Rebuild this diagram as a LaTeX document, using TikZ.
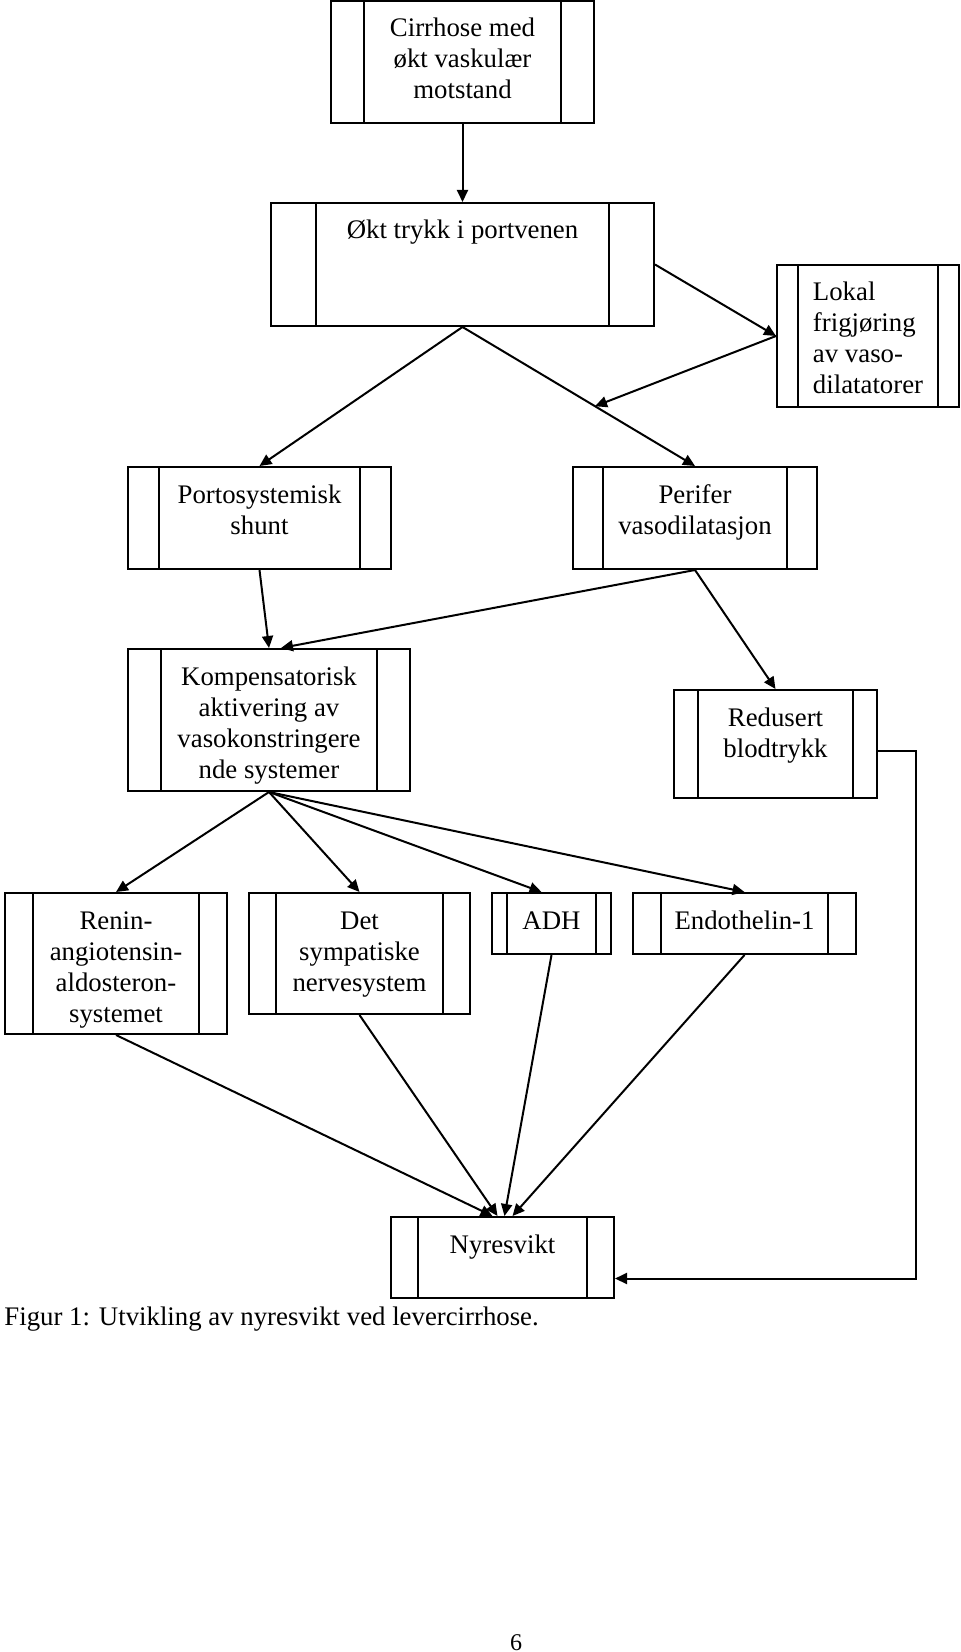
\documentclass[tikz,border=0pt]{standalone}
\usepackage{fontspec}
\setmainfont{Liberation Serif}
\usetikzlibrary{arrows.meta}

\newcommand{\tekst}[2][c]{\begin{tabular}[t]{@{}#1@{}}#2\end{tabular}}

\tikzset{
	boks/.style={draw, line width=1pt, inner sep=0pt, text height=18pt,
		path picture={\draw[line width=1pt] ([xshift=#1]path picture bounding box.north west) -- ([xshift=#1]path picture bounding box.south west)
			([xshift=-#1]path picture bounding box.north east) -- ([xshift=-#1]path picture bounding box.south east);}},
	pil/.style={->, line width=1pt},
	>={Triangle[length=6pt,width=5.5pt]}
}

\begin{document}
\begin{tikzpicture}[x=.5pt,y=-.5pt,font=\fontsize{13.4}{15.5}\selectfont]
			\useasboundingbox (0,0) rectangle (960,1652);

			\node[boks=16.5pt, minimum width=131.5pt, text depth=43pt] (cirr) at (462.5,62) {\tekst{Cirrhose med\\økt vaskulær\\motstand}};
			\node[boks=22.5pt, minimum width=191.5pt, text depth=43.5pt] (okt) at (462.5,264.5) {\tekst{Økt trykk i portvenen}};
			\node[boks=10.5pt, minimum width=91pt, text depth=53pt] (lokal) at (868,336) {\tekst[l]{Lokal\\frigjøring\\av vaso-\\dilatatorer}};
			\node[boks=15.5pt, minimum width=131.5pt, text depth=33pt] (porto) at (259.5,518) {\tekst{Portosystemisk\\shunt}};
			\node[boks=15pt, minimum width=122pt, text depth=33pt] (perifer) at (695,518) {\tekst{Perifer\\vasodilatasjon}};
			\node[boks=16.5pt, minimum width=141pt, text depth=53pt] (komp) at (269,720) {\tekst{Kompensatorisk\\aktivering av\\vasokonstringere\\nde systemer}};
			\node[boks=12pt, minimum width=101.5pt, text depth=36pt] (red) at (775.5,744) {\tekst{Redusert\\blodtrykk}};
			\node[boks=14pt, minimum width=111pt, text depth=52.5pt] (renin) at (116,963.5) {\tekst{Renin-\\angiotensin-\\aldosteron-\\systemet}};
			\node[boks=13.5pt, minimum width=110.5pt, text depth=42.5pt] (sns) at (359.5,953.5) {\tekst{Det\\sympatiske\\nervesystem}};
			\node[boks=7.5pt, minimum width=59.5pt, text depth=12.5pt] (adh) at (551.5,923.5) {\tekst{ADH}};
			\node[boks=14pt, minimum width=111.5pt, text depth=12.5pt] (endo) at (744.5,923.5) {\tekst{Endothelin-1}};
			\node[boks=13.5pt, minimum width=111.5pt, text depth=22.5pt] (nyre) at (502.5,1257.5) {\tekst{Nyresvikt}};

			\node[anchor=base west, inner sep=0pt] (fig) at (4,1325) {Figur 1: Utvikling av nyresvikt ved levercirrhose.};
			\node[anchor=base, inner sep=0pt, font=\fontsize{12}{14}\selectfont] (side) at (516,1650) {6};

			%% lines
			\draw[pil] (cirr) -- (okt);
			\draw[pil] (okt.east) -- (lokal.west);
			\draw[pil] (okt.south) -- coordinate[pos=.57] (vd) (perifer.north);
			\draw[pil] (lokal.west) -- (vd);
			\draw[pil] (okt.south) -- (porto.north);
			\draw[pil] (porto.south) -- (komp.north);
			\draw[pil] (perifer.south) -- ([xshift=6pt]komp.north);
			\draw[pil] (perifer.south) -- (red.north);
			\draw[pil] ([yshift=-3.5pt]red.east) -- ++(38,0) |- ([yshift=-10.5pt]nyre.east);
			\draw[pil] (komp.south) -- (renin.north);
			\draw[pil] (komp.south) -- (sns.north);
			\draw[pil] (komp.south) -- ([xshift=-5pt]adh.north);
			\draw[pil] (komp.south) -- (endo.north);
			\draw[pil] (renin.south) -- ([xshift=-5pt]nyre.north);
			\draw[pil] (sns.south) -- ([xshift=-2.5pt]nyre.north);
			\draw[pil] (adh.south) -- ([xshift=1pt]nyre.north);
			\draw[pil] (endo.south) -- ([xshift=5pt]nyre.north);
\end{tikzpicture}
\end{document}
